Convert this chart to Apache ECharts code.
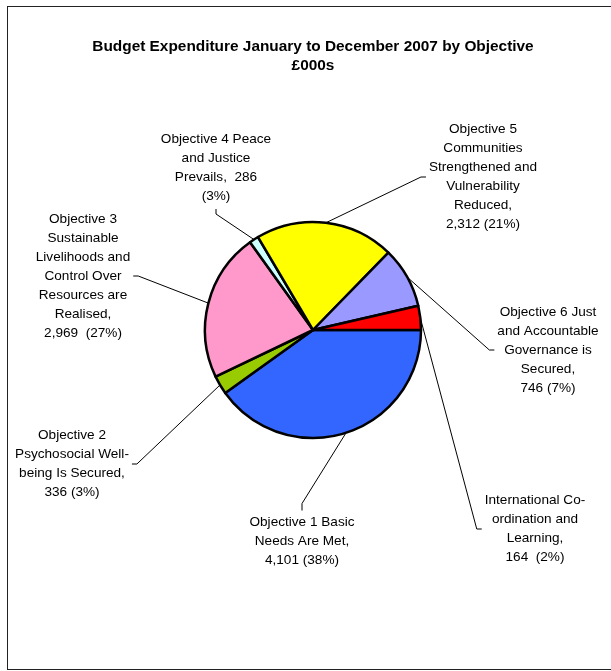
<!DOCTYPE html>
<html><head><meta charset="utf-8">
<script src="https://cdn.jsdelivr.net/npm/echarts@6/dist/echarts.min.js"></script>
<style>
html,body{margin:0;padding:0;background:#fff;}
#wrap{position:relative;width:611px;height:671px;overflow:hidden;}
#frame{position:absolute;left:7px;top:6px;width:640px;height:664px;border:1.5px solid #222;box-sizing:border-box;}
#chart{position:absolute;left:0;top:0;width:626px;height:671px;}
</style></head><body>
<div id="wrap"><div id="frame"></div><div id="chart"></div></div>
<script>
const categories = [
  "Objective 1 Basic Needs Are Met",
  "Objective 2 Psychosocial Well-being Is Secured",
  "Objective 3 Sustainable Livelihoods and Control Over Resources are Realised",
  "Objective 4 Peace and Justice Prevails",
  "Objective 5 Communities Strengthened and Vulnerability Reduced",
  "Objective 6 Just and Accountable Governance is Secured",
  "International Co-ordination and Learning"
];
// slice sizes as drawn in the picture (share of the circle, %)
const sliceShares = [40.1, 2.8, 22.2, 1.4, 20.8, 9.1, 3.6];
// values and percentages as printed in the labels (£000s)
const labelValues = [4101, 336, 2969, 286, 2312, 746, 164];
const labelPercents = [38, 3, 27, 3, 21, 7, 2];
const labelTexts = [
  "Objective 1 Basic\nNeeds Are Met,\n{v} ({p}%)",
  "Objective 2\nPsychosocial Well-\nbeing Is Secured,\n{v} ({p}%)",
  "Objective 3\nSustainable\nLivelihoods and\nControl Over\nResources are\nRealised,\n{v}  ({p}%)",
  "Objective 4 Peace\nand Justice\nPrevails,  {v}\n({p}%)",
  "Objective 5\nCommunities\nStrengthened and\nVulnerability\nReduced,\n{v} ({p}%)",
  "Objective 6 Just\nand Accountable\nGovernance is\nSecured,\n{v} ({p}%)",
  "International Co-\nordination and\nLearning,\n{v}  ({p}%)"
];
const colors = ["#3366FF", "#99CC00", "#FF99CC", "#CCFFFF", "#FFFF00", "#9999FF", "#FF0000"];
const labelAnchors = [[302,541],[72,464],[83,276],[216,168],[483,177],[548,350],[535,529]];
const labelSides = ["top","right","right","bottom","left","left","left"];
const titleText = "Budget Expenditure January to December 2007 by Objective\n£000s";

const chart = echarts.init(document.getElementById('chart'), null, {renderer:'canvas'});
chart.setOption({
  animation:false,
  title:{
    text:titleText, left:'center', top:32,
    textStyle:{fontFamily:'Liberation Sans, Arial, sans-serif', fontSize:15.4, fontWeight:'bold', color:'#000', lineHeight:19}
  },
  series:[{
    type:'pie',
    center:[313,330],
    radius:108,
    startAngle:0,
    clockwise:true,
    avoidLabelOverlap:false,
    emphasis:{disabled:true},
    itemStyle:{borderColor:'#000', borderWidth:2.5},
    label:{
      show:true,
      color:'#000',
      fontFamily:'Liberation Sans, Arial, sans-serif',
      fontSize:13.6,
      lineHeight:19,
      formatter:function(p){
        const i = p.dataIndex;
        return labelTexts[i].replace('{v}', labelValues[i].toLocaleString('en-US')).replace('{p}', labelPercents[i]);
      }
    },
    labelLine:{show:true, length:10, length2:5, lineStyle:{color:'#000', width:1}},
    labelLayout:function(params){
      const i = params.dataIndex;
      const a = labelAnchors[i];
      const w = params.labelRect.width, h = params.labelRect.height;
      const start = params.labelLinePoints ? params.labelLinePoints[0] : null;
      const side = labelSides[i];
      let mid, end;
      if (side === 'left') { mid = [a[0]-w/2-8, a[1]]; end = [a[0]-w/2-3, a[1]]; }
      else if (side === 'right') { mid = [a[0]+w/2+8, a[1]]; end = [a[0]+w/2+3, a[1]]; }
      else if (side === 'top') { mid = [a[0], a[1]-h/2-9]; end = [a[0], a[1]-h/2-2]; }
      else { mid = [a[0], a[1]+h/2+8]; end = [a[0], a[1]+h/2+3]; }
      const res = {x:a[0], y:a[1], align:'center', verticalAlign:'middle'};
      if (start) res.labelLinePoints = [start, mid, end];
      return res;
    },
    data: categories.map((c,i)=>({name:c, value:sliceShares[i], itemStyle:{color:colors[i]}}))
  }]
});
</script>
</body></html>
